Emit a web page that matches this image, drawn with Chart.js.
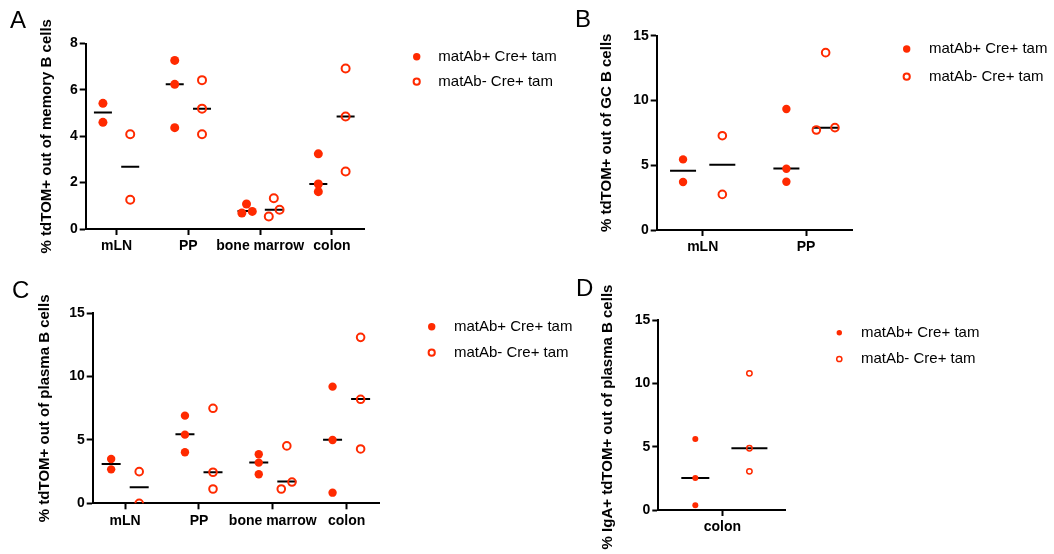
<!DOCTYPE html>
<html>
<head>
<meta charset="utf-8">
<script src="https://cdn.jsdelivr.net/npm/chart.js@4.4.0/dist/chart.umd.min.js"></script>
<style>
  html, body { margin: 0; padding: 0; background: #fff; }
  #wrap { position: relative; width: 1054px; height: 554px; }
  #wrap canvas { position: absolute; left: 0; top: 0; }
</style>
</head>
<body>
<div id="wrap">
  <canvas id="panelA" width="1054" height="554"></canvas>
  <canvas id="panelB" width="1054" height="554"></canvas>
  <canvas id="panelC" width="1054" height="554"></canvas>
  <canvas id="panelD" width="1054" height="554"></canvas>
</div>
<script>
// groups and tick labels
const tissuesAC = ['mLN', 'PP', 'bone marrow', 'colon'];
const tissuesB = ['mLN', 'PP'];
const tissuesD = ['colon'];
const seriesNames = ['matAb+ Cre+ tam', 'matAb- Cre+ tam'];

// A - % tdTOM+ out of memory B cells
const aPos = [[5.42, 4.60], [7.27, 6.24, 4.37], [1.08, 0.69, 0.76], [3.24, 1.94, 1.61]];
const aNeg = [[4.09, 1.26], [6.42, 5.19, 4.09], [1.33, 0.54, 0.83], [6.92, 4.85, 2.48]];
const aPosMed = [5.02, 6.24, 0.78, 1.94];
const aNegMed = [2.68, 5.19, 0.83, 4.85];

// B - % tdTOM+ out of GC B cells
const bPos = [[5.45, 3.70], [9.34, 4.73, 3.73]];
const bNeg = [[7.28, 2.75], [13.69, 7.72, 7.90]];
const bPosMed = [4.57, 4.75];
const bNegMed = [5.03, 7.90];

// C - % tdTOM+ out of plasma B cells
const cPos = [[3.50, 2.68], [6.92, 5.42, 4.03], [3.87, 3.21, 2.29], [9.21, 5.00, 0.84]];
const cNeg = [[2.50, 0.00], [7.50, 2.45, 1.13], [4.53, 1.13, 1.68], [13.10, 8.21, 4.29]];
const cPosMed = [3.10, 5.45, 3.23, 5.02];
const cNegMed = [1.26, 2.45, 1.72, 8.24];

// D - % IgA+ tdTOM+ out of plasma B cells
const dPos = [[5.60, 2.53, 0.37]];
const dNeg = [[10.79, 4.87, 3.05]];
const dPosMed = [2.53];
const dNegMed = [4.87];

// horizontal spread of overlapping dots (category units, layout only)
const aPosSpread = [[], [], [0, -0.065, 0.08], []];
const aNegSpread = [[], [], [0, -0.07, 0.08], []];
const bNegSpread = [[], [0, -0.09, 0.09]];
const cNegSpread = [[], [], [0, -0.075, 0.07], []];

const RED = '#ff2a00';
const FONT = "'Liberation Sans', Arial, Helvetica, sans-serif";
Chart.defaults.font.family = FONT;
Chart.defaults.color = '#000';

function groupPoints(groups, side, spread) {
  const pts = [];
  groups.forEach((vals, i) => {
    vals.forEach((v, j) => {
      const dx = (spread && spread[i] && spread[i][j]) || 0;
      pts.push({ x: i + side + dx, y: v });
    });
  });
  return pts;
}

function medianPoints(meds, side) {
  return meds.map((m, i) => ({ x: i + side, y: m }));
}

// panel letter, y title and legend
const panelDecor = {
  id: 'panelDecor',
  afterDraw(chart, args, o) {
    const ctx = chart.ctx;
    const a = chart.chartArea;
    ctx.save();
    ctx.fillStyle = '#000';
    ctx.font = '24px ' + FONT;
    ctx.textAlign = 'left';
    ctx.textBaseline = 'alphabetic';
    ctx.fillText(o.letter, o.letterX, o.letterY);

    ctx.save();
    ctx.font = 'bold 15px ' + FONT;
    ctx.translate(o.titleX, (a.top + a.bottom) / 2 + (o.titleShift || 0));
    ctx.rotate(-Math.PI / 2);
    ctx.textAlign = 'center';
    ctx.textBaseline = 'middle';
    ctx.fillText(o.title, 0, 0);
    ctx.restore();

    // legend rows for the two dot series
    ctx.font = '15px ' + FONT;
    ctx.textAlign = 'left';
    ctx.textBaseline = 'middle';
    chart.data.datasets.slice(0, 2).forEach((ds, i) => {
      const y = o.legendY[i];
      ctx.fillStyle = ds.backgroundColor;
      ctx.strokeStyle = ds.borderColor;
      ctx.lineWidth = ds.borderWidth;
      Chart.helpers.drawPoint(ctx, {
        pointStyle: 'circle', rotation: 0,
        radius: o.legendR[i], borderWidth: ds.borderWidth
      }, o.legendX, y);
      ctx.fillStyle = '#000';
      ctx.fillText(ds.label, o.textX, y);
    });
    ctx.restore();
  }
};

function makePanel(id, p) {
  const W = 1054, H = 554, yW = 30, xH = 30;
  return new Chart(document.getElementById(id), {
    type: 'scatter',
    data: {
      datasets: [
        {
          label: seriesNames[0],
          data: groupPoints(p.pos, -0.19, p.posSpread),
          pointStyle: 'circle',
          pointRadius: p.r,
          backgroundColor: RED,
          borderColor: RED,
          borderWidth: 0,
          order: 0
        },
        {
          label: seriesNames[1],
          data: groupPoints(p.neg, 0.19, p.negSpread),
          pointStyle: 'circle',
          pointRadius: p.ro,
          backgroundColor: 'rgba(255,255,255,0)',
          borderColor: RED,
          borderWidth: p.bw,
          order: 0
        },
        {
          label: 'median',
          data: medianPoints(p.posMed, -0.19),
          pointStyle: 'line',
          pointRadius: p.medR[0],
          borderColor: '#000',
          borderWidth: 2,
          order: 1
        },
        {
          label: 'median',
          data: medianPoints(p.negMed, 0.19),
          pointStyle: 'line',
          pointRadius: p.medR[1],
          borderColor: '#000',
          borderWidth: 2,
          order: 1
        }
      ]
    },
    options: {
      responsive: false,
      animation: false,
      events: [],
      layout: {
        padding: {
          left: p.left - yW,
          top: p.top,
          right: W - p.right,
          bottom: H - p.bottom - xH
        }
      },
      plugins: {
        legend: { display: false },
        tooltip: { enabled: false },
        panelDecor: p.decor
      },
      scales: {
        x: {
          type: 'linear',
          min: p.xmin,
          max: p.xmax,
          afterBuildTicks: s => { s.ticks = p.cats.map((c, i) => ({ value: i })); },
          afterFit: s => { s.height = xH; },
          ticks: {
            callback: v => p.cats[v],
            autoSkip: false,
            maxRotation: 0,
            padding: 3,
            color: '#000',
            font: { size: 14, weight: 'bold' }
          },
          grid: {
            drawOnChartArea: false,
            drawTicks: true,
            tickLength: 6,
            tickWidth: 2,
            tickColor: '#000'
          },
          border: { display: true, color: '#000', width: 2 }
        },
        y: {
          min: 0,
          max: p.ymax,
          afterFit: s => { s.width = yW; },
          ticks: {
            stepSize: p.step,
            padding: 2,
            color: '#000',
            font: { size: 14, weight: 'bold' }
          },
          grid: {
            drawOnChartArea: false,
            drawTicks: true,
            tickLength: 6,
            tickWidth: 2,
            tickColor: '#000'
          },
          border: { display: true, color: '#000', width: 2 }
        }
      }
    },
    plugins: [panelDecor]
  });
}

makePanel('panelA', {
  cats: tissuesAC, pos: aPos, neg: aNeg, posMed: aPosMed, negMed: aNegMed,
  posSpread: aPosSpread, negSpread: aNegSpread,
  left: 85.7, top: 43.5, right: 365, bottom: 229,
  xmin: -0.43, xmax: 3.46, ymax: 8, step: 2,
  r: 4.5, ro: 4, bw: 2, medR: [9, 9],
  decor: {
    letter: 'A', letterX: 10, letterY: 28,
    title: '% tdTOM+ out of memory B cells', titleX: 47,
    legendX: 416.7, legendY: [56.7, 81.7], textX: 438.3, legendR: [3.7, 3.1]
  }
});

makePanel('panelB', {
  cats: tissuesB, pos: bPos, neg: bNeg, posMed: bPosMed, negMed: bNegMed,
  posSpread: null, negSpread: bNegSpread,
  left: 656.7, top: 35.7, right: 852, bottom: 230,
  xmin: -0.445, xmax: 1.445, ymax: 15, step: 5,
  r: 4.2, ro: 3.8, bw: 2, medR: [13, 13],
  decor: {
    letter: 'B', letterX: 575, letterY: 27,
    title: '% tdTOM+ out of GC B cells', titleX: 606.7,
    legendX: 906.7, legendY: [49, 76.7], textX: 929, legendR: [3.7, 3.1]
  }
});

makePanel('panelC', {
  cats: tissuesAC, pos: cPos, neg: cNeg, posMed: cPosMed, negMed: cNegMed,
  posSpread: null, negSpread: cNegSpread,
  left: 92.7, top: 313.3, right: 379.8, bottom: 503.3,
  xmin: -0.44, xmax: 3.45, ymax: 15, step: 5,
  r: 4.2, ro: 3.8, bw: 2, medR: [9.5, 9.5],
  decor: {
    letter: 'C', letterX: 12, letterY: 298,
    title: '% tdTOM+ out of plasma B cells', titleX: 45,
    legendX: 431.7, legendY: [326.7, 352.7], textX: 454, legendR: [3.7, 3.1]
  }
});

makePanel('panelD', {
  cats: tissuesD, pos: dPos, neg: dNeg, posMed: dPosMed, negMed: dNegMed,
  posSpread: null, negSpread: null,
  left: 658.3, top: 320, right: 785, bottom: 510,
  xmin: -0.45, xmax: 0.44, ymax: 15, step: 5,
  r: 3, ro: 2.7, bw: 1.5, medR: [14, 18],
  decor: {
    letter: 'D', letterX: 576, letterY: 296,
    title: '% IgA+ tdTOM+ out of plasma B cells', titleX: 607.5, titleShift: 2,
    legendX: 839.3, legendY: [332.7, 359], textX: 861, legendR: [2.7, 2.6]
  }
});
</script>
</body>
</html>
